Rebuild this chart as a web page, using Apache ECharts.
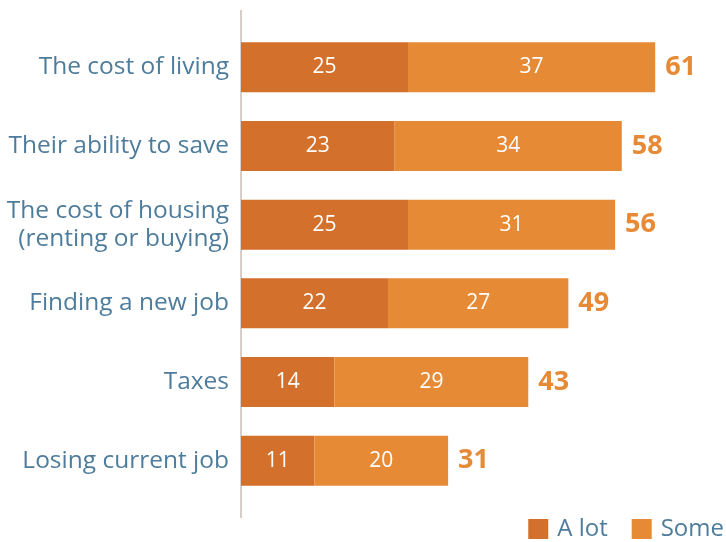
<!DOCTYPE html>
<html>
<head>
<meta charset="utf-8">
<script src="https://cdn.jsdelivr.net/npm/echarts@6/dist/echarts.min.js"></script>
<style>html,body{margin:0;padding:0;background:#fff}#c{width:726px;height:542px}</style>
</head>
<body>
<div id="c"></div>
<script>
const categories = ["The cost of living", "Their ability to save", "The cost of housing\n(renting or buying)", "Finding a new job", "Taxes", "Losing current job"];
const aLot = [25, 23, 25, 22, 14, 11];
const some = [37, 34, 31, 27, 29, 20];
const totals = [61, 58, 56, 49, 43, 31];
const seriesNames = ["A lot", "Some"];

const FONT = "Open Sans";
const TEXT = "#4E7C9B";
const DARK = "#D2702C";
const LIGHT = "#E68A36";

const chart = echarts.init(document.getElementById('c'), null, {renderer: 'canvas'});
chart.setOption({
  animation: false,
  textStyle: {fontFamily: FONT},
  grid: {left: 241, right: 4, top: 28, bottom: 42, containLabel: false},
  legend: {
    data: seriesNames, right: 2, bottom: 1, padding: 0, itemWidth: 20, itemHeight: 20, itemGap: 24,
    icon: 'rect', textStyle: {fontFamily: FONT, fontSize: 24, color: TEXT, padding: [0, 0, 0, 4]}
  },
  xAxis: {type: 'value', min: 0, max: 72, show: false},
  yAxis: {
    type: 'category', data: categories, inverse: true,
    axisLine: {show: false}, axisTick: {show: false},
    axisLabel: {fontFamily: FONT, fontSize: 24.5, color: TEXT, margin: 12, lineHeight: 28, align: 'right'}
  },
  graphic: [{type: 'line', shape: {x1: 241, y1: 10, x2: 241, y2: 518}, style: {stroke: '#D8CFCA', lineWidth: 2}}],
  series: [
    {name: seriesNames[0], type: 'bar', stack: 't', data: aLot, barWidth: 50, itemStyle: {color: DARK},
     label: {show: true, position: 'inside', color: '#fff', fontSize: 21, fontFamily: FONT}},
    {name: seriesNames[1], type: 'bar', stack: 't', data: some, barWidth: 50, itemStyle: {color: LIGHT},
     label: {show: true, position: 'inside', color: '#fff', fontSize: 21, fontFamily: FONT}},
    {name: 'total', type: 'bar', stack: 't', data: totals.map(() => 0), barWidth: 50, itemStyle: {color: 'transparent'},
     label: {show: true, position: 'right', distance: 10, formatter: p => totals[p.dataIndex], color: LIGHT, fontSize: 27, fontWeight: 'bold', fontFamily: FONT}}
  ]
});
</script>
</body>
</html>
